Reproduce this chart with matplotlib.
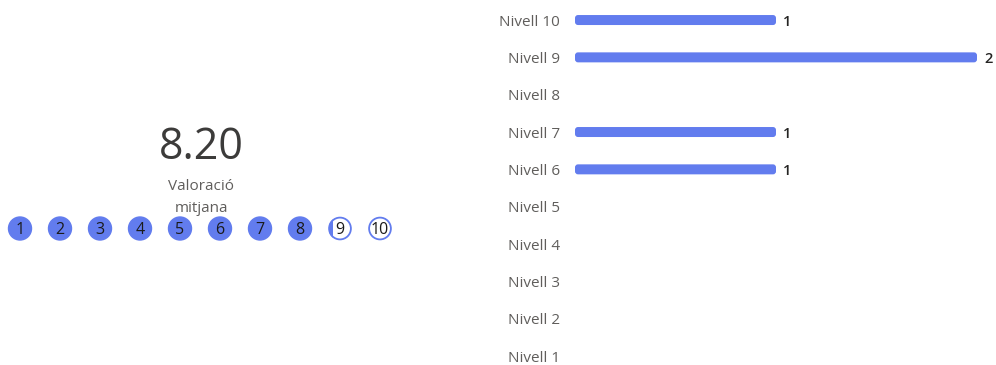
import matplotlib
matplotlib.use("Agg")
import matplotlib.pyplot as plt
from matplotlib.patches import Circle, Rectangle, FancyBboxPatch

# Response counts per rating level
levels = ["Nivell 1", "Nivell 2", "Nivell 3", "Nivell 4", "Nivell 5",
          "Nivell 6", "Nivell 7", "Nivell 8", "Nivell 9", "Nivell 10"]
scores = [1, 2, 3, 4, 5, 6, 7, 8, 9, 10]
counts = [0, 0, 0, 0, 0, 1, 1, 0, 2, 1]

average = sum(s * c for s, c in zip(scores, counts)) / sum(counts)

BLUE = "#627CEE"
DARK = "#252423"
GREY = "#605E5C"
FONT = ["Open Sans", "DejaVu Sans"]

W, H = 996, 365
fig = plt.figure(figsize=(W / 100, H / 100), dpi=100)
fig.patch.set_facecolor("white")

# ---- Left panel: average score and rating dots (pixel coordinates) ----
axl = fig.add_axes([0, 0, 400 / W, 1])
axl.set_xlim(0, 400)
axl.set_ylim(H, 0)
axl.axis("off")

axl.text(201, 148, f"{average:.2f}", ha="center", va="center",
         fontsize=31, color="#3C3B3A", family=FONT)
axl.text(201, 185, "Valoració", ha="center", va="center_baseline",
         fontsize=11, color=GREY, family=FONT)
axl.text(201, 206, "mitjana", ha="center", va="center_baseline",
         fontsize=11, color=GREY, family=FONT)

r = 11.5
cy = 228.5
for s in scores:
    cx = 20 + 40 * (s - 1)
    fill = min(max(average - (s - 1), 0), 1)
    if fill >= 1:
        axl.add_patch(Circle((cx, cy), r, facecolor=BLUE, edgecolor=BLUE, lw=1))
    else:
        ring = Circle((cx, cy), r, facecolor="white", edgecolor="none")
        axl.add_patch(ring)
        if fill > 0:
            part = Rectangle((cx - r, cy - r), 2 * r * fill, 2 * r,
                             facecolor=BLUE, edgecolor="none")
            axl.add_patch(part)
            part.set_clip_path(ring)
        axl.add_patch(Circle((cx, cy), r - 0.6, facecolor="none",
                             edgecolor=BLUE, lw=1.3))
    axl.text(cx, cy, str(s), ha="center", va="center_baseline",
             fontsize=11.5, color="#1A1A1A", family=FONT)

# ---- Right panel: horizontal bars per level ----
row_px = 37.33
bottom_px = 9
x0_px, x1_px = 575, 977
axr = fig.add_axes([x0_px / W, 0, (x1_px - x0_px) / W, 1])
axr.set_xlim(0, 2)
axr.set_ylim(-bottom_px / row_px, (H - bottom_px) / row_px)
axr.axis("off")

px = 2 / (x1_px - x0_px)
bar_h = 10 / row_px
rx = 3 * px
ry = 3 / row_px
for i, (lab, c) in enumerate(zip(levels, counts)):
    axr.text(-15 * px, i, lab, ha="right", va="center_baseline",
             fontsize=11, color=GREY, family=FONT, clip_on=False)
    if c > 0:
        axr.add_patch(FancyBboxPatch((0, i - bar_h / 2), c, bar_h,
                                     boxstyle=f"round,pad=0,rounding_size={rx}",
                                     mutation_aspect=ry / rx,
                                     facecolor=BLUE, edgecolor="none"))
        axr.text(c + 7 * px, i, str(c), ha="left", va="center_baseline",
                 fontsize=10.5, fontweight="semibold", color=DARK,
                 family=FONT, clip_on=False)

fig.savefig("out.png", dpi=100, facecolor="white")
